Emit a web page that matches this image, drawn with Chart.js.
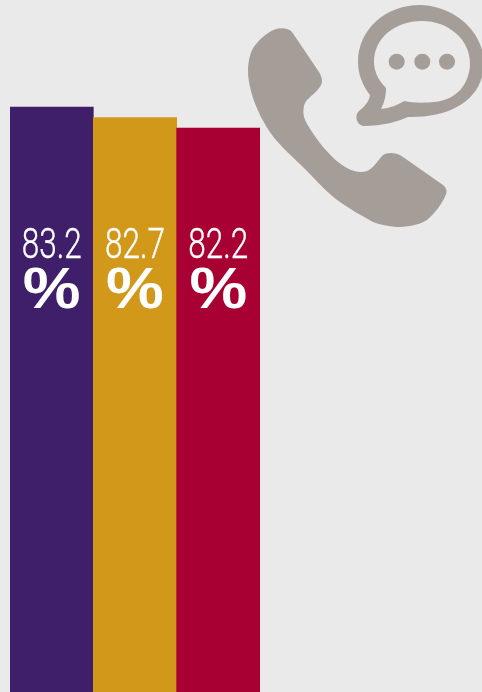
<!DOCTYPE html>
<html>
<head>
    <title>Phone bars</title>
    <style>
        html, body{
            margin: 0;
            background: #eaeaea;
        }
        canvas{
            display: block;
        }
    </style>
</head>
<body>
<canvas id="chart" width="482" height="692" style="width:482px;height:692px"></canvas>

<script src="https://cdnjs.cloudflare.com/ajax/libs/Chart.js/4.4.1/chart.umd.js"></script>
<script>
    const categories = ["A", "B", "C"];
    const values = [83.2, 82.7, 82.2];
    const colors = ["#3f1f69", "#d19819", "#a80032"];

    // phone and speech bubble icon, page pixels
    const phonePath = "M281.7 28.3 C286 28.3 290 29.5 292 32 L319 72 C322 77 323 82 321 85 C318 91 311 96 307 100 C303 104 303 112 304 117 C306 124 316 138 323 147 C331 156 339 164 347 168 C354 172 362 173 367 171 C374 168 378 160 383 155 C387 152 397 152 403 157 L443 185 C447 188 447 192 446 194 C443 203 434 214 427 220 C417 226 405 227 397 227 C388 226 381 225 373 222 C362 216 350 209 340 202 C328 194 316 180 306 170 C294 158 281 147 272 135 C264 124 257 110 253 98 C250 88 247.5 78 248 68 C249 55 252 48 257 43 C263 36 273 28 281.7 28.3 Z";
    const bubblePath = "M420 5 C447 5 482 25 484 62 C484 100 450 118 408 117 C398 121 388 125 366 126 C358 127 354 118 358 112 C364 107 369 102 370 95 C362 85 358 73 358 62 C358 30 385 5 420 5 Z " +
        "M422 21 C395 21 374 38 374 62 C374 73 380 82 386 88 C386 97 384 103 381 109 C390 108 398 105 404 101 C412 103 425 103 434 102 C458 100 470 82 470 63 C470 40 449 21 422 21 Z";

    const iconPlugin = {
        id: "icon",
        beforeDraw(chart) {
            const ctx = chart.ctx;
            ctx.save();
            ctx.fillStyle = "#a59d98";
            ctx.fill(new Path2D(phonePath));
            ctx.fill(new Path2D(bubblePath), "evenodd");
            [396.7, 422.3, 447].forEach(function (x) {
                ctx.beginPath();
                ctx.arc(x, 61.7, 8, 0, Math.PI * 2);
                ctx.fill();
            });
            ctx.restore();
        }
    };

    const labelPlugin = {
        id: "barLabels",
        afterDatasetsDraw(chart) {
            const ctx = chart.ctx;
            const bars = chart.getDatasetMeta(0).data;
            ctx.save();
            ctx.fillStyle = "#ffffff";
            ctx.strokeStyle = "#ffffff";
            ctx.lineWidth = 0.4;
            ctx.textAlign = "center";
            ctx.textBaseline = "alphabetic";
            bars.forEach(function (bar, i) {
                ctx.save();
                ctx.translate(bar.x, 258);
                ctx.scale(0.75, 1);
                ctx.font = "300 42px Roboto";
                ctx.fillText(values[i].toFixed(1), 0, 0);
                ctx.strokeText(values[i].toFixed(1), 0, 0);
                ctx.restore();

                ctx.save();
                ctx.translate(bar.x, 308);
                ctx.scale(1.14, 1);
                ctx.font = "bold 57px 'Liberation Sans'";
                ctx.fillText("%", 0, 0);
                ctx.restore();
            });
            ctx.restore();
        }
    };

    new Chart("chart", {
        type: "bar",
        data: {
            labels: categories,
            datasets: [{
                data: values,
                backgroundColor: colors,
                barPercentage: 1,
                categoryPercentage: 1
            }]
        },
        options: {
            responsive: false,
            animation: false,
            layout: {padding: {left: 10, right: 222, top: 0, bottom: 0}},
            plugins: {
                legend: {display: false},
                tooltip: {enabled: false}
            },
            scales: {
                x: {display: false},
                y: {display: false, min: 55.34, max: 88.3}
            }
        },
        plugins: [iconPlugin, labelPlugin]
    });
</script>
</body>
</html>
